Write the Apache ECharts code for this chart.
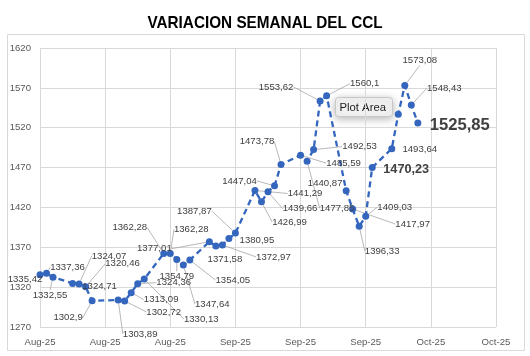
<!DOCTYPE html>
<html>
<head>
<meta charset="utf-8">
<script src="https://cdn.jsdelivr.net/npm/echarts@6/dist/echarts.min.js"></script>
<style>html,body{margin:0;padding:0;background:#fff}#c{width:530px;height:356px}</style>
</head>
<body>
<div id="c"></div>
<script>
// ---- data ----
const dates = [
  '2025-08-06','2025-08-07','2025-08-08','2025-08-11','2025-08-12','2025-08-13','2025-08-14',
  '2025-08-18','2025-08-19','2025-08-20','2025-08-21','2025-08-22',
  '2025-08-25','2025-08-26','2025-08-27','2025-08-28','2025-08-29',
  '2025-09-01','2025-09-02','2025-09-03','2025-09-04','2025-09-05',
  '2025-09-08','2025-09-09','2025-09-10','2025-09-11','2025-09-12',
  '2025-09-15','2025-09-16','2025-09-17','2025-09-18','2025-09-19',
  '2025-09-22','2025-09-23','2025-09-24','2025-09-25','2025-09-26',
  '2025-09-29','2025-09-30','2025-10-01','2025-10-02','2025-10-03'
];
const values = [
  1335.42,1337.36,1332.55,1324.71,1324.07,1320.46,1302.9,
  1303.89,1302.72,1313.09,1324.36,1330.13,
  1362.28,1362.28,1354.79,1347.64,1354.05,
  1377.01,1371.58,1372.97,1380.95,1387.87,
  1441.29,1426.99,1439.66,1447.04,1473.78,
  1485.59,1477.85,1492.53,1553.62,1560.1,
  1440.87,1417.97,1396.33,1409.03,1470.23,
  1493.64,1537,1573.08,1548.43,1525.85
];
const xTickLabels = ['Aug-25','Aug-25','Aug-25','Sep-25','Sep-25','Sep-25','Oct-25','Oct-25'];
const yMin = 1270, yMax = 1620, yStep = 50;

// ---- label layout (offsets of label centre from its point) ----
const labelOffsets = [
  [-15,4],[21,-6],[-3,18],[27,3],[30,-28],[37,-23],[-24,17],
  [22,34],[39,11],[30,7],[36,-1],[57,40],
  [-34,-26],[21,-24],[0,17],[29,39],[43,20],
  [-55,7],[9,13],[51,12],[28,2],[-41,-22],
  [50,3],[28,20],[32,17],[-35,-5],[-24,-23],
  [43,8],[30,47],[46,-3],[-44,-14],[38,-12],
  [-21,-7],[60,15],[23,25],[29,-9],[34,2],
  [28,1],[0,0],[15,-25],[33,-17],[42,2]
];
const leaderShown = [
  0,1,1,0,1,1,1, 1,1,1,1,1, 1,1,1,1,1, 1,0,1,0,1,
  1,1,1,1,1, 1,1,1,1,1, 0,1,1,1,0, 0,0,1,1,0
];
const labelHidden = 38;           // hidden behind the "Plot Area" tip
const bigLabels = {36: 12.7, 41: 16.6};

const day0 = Date.parse(dates[0]);
const dayIdx = dates.map(d => Math.round((Date.parse(d) - day0) / 86400000));
const fmt = v => v.toFixed(2).replace(/0+$/,'').replace(/\.$/,'').replace('.', ',');

const FONT = "'Liberation Sans', Arial, sans-serif";
const seriesData = values.map((v, i) => {
  const item = { value: [dayIdx[i], v] };
  const lab = {};
  if (i === labelHidden) lab.show = false;
  if (bigLabels[i]) { lab.fontSize = bigLabels[i]; lab.fontWeight = 'bold'; }
  item.label = lab;
  item.labelLine = { show: !!leaderShown[i] };
  return item;
});

const chart = echarts.init(document.getElementById('c'), null, {renderer: 'canvas'});
chart.setOption({
  animation: false,
  backgroundColor: '#fff',
  grid: {left: 40, right: 34, top: 48, bottom: 29, containLabel: false},
  xAxis: {
    type: 'value', min: 0, max: 70, interval: 10,
    axisLine: {show: false}, axisTick: {show: false},
    splitLine: {show: true, lineStyle: {color: '#d9d9d9', width: 1}},
    axisLabel: {
      margin: 10, fontSize: 9.6, fontFamily: FONT, color: '#595959',
      showMinLabel: true, showMaxLabel: true,
      formatter: v => xTickLabels[Math.round(v / 10)] || ''
    }
  },
  yAxis: {
    type: 'value', min: yMin, max: yMax, interval: yStep,
    axisLine: {show: false}, axisTick: {show: false},
    splitLine: {show: true, lineStyle: {color: '#d9d9d9', width: 1}},
    axisLabel: {margin: 9, fontSize: 9.6, fontFamily: FONT, color: '#595959',
                formatter: v => String(Math.round(v))}
  },
  series: [{
    type: 'line',
    data: seriesData,
    symbol: 'circle', symbolSize: 7,
    itemStyle: {color: '#3466be'},
    lineStyle: {color: '#3466be', width: 2.3, type: [6, 4]},
    label: {
      show: true, position: 'inside', align: 'center', verticalAlign: 'middle',
      fontSize: 9.6, fontFamily: FONT, color: '#404040',
      formatter: p => fmt(p.value[1])
    },
    labelLine: {show: true, lineStyle: {color: '#a6a6a6', width: 0.8}},
    labelLayout: p => ({dx: labelOffsets[p.dataIndex][0], dy: labelOffsets[p.dataIndex][1]}),
    emphasis: {disabled: true}
  }],
  graphic: [
    {type: 'text', x: 265, y: 23, scaleX: 0.9, silent: true,
     style: {text: 'VARIACION SEMANAL DEL CCL', align: 'center', verticalAlign: 'middle',
             font: "bold 17px 'Liberation Sans', Arial, sans-serif", fill: '#000'}},
    {type: 'rect', silent: true, z: -10,
     shape: {x: 7.5, y: 34.5, width: 517, height: 316},
     style: {fill: 'none', stroke: '#d9d9d9', lineWidth: 1}},
    {type: 'group', left: 335, top: 97, z: 100, children: [
      {type: 'rect', shape: {x: 0, y: 0, width: 57, height: 19, r: 3},
       style: {fill: '#f3f3f3', stroke: '#c8c8c8', lineWidth: 1,
               shadowBlur: 8, shadowColor: 'rgba(0,0,0,0.28)', shadowOffsetY: 2}},
      {type: 'text', x: 4, y: 10,
       style: {text: 'Plot Area', font: "11.3px 'Liberation Sans', Arial, sans-serif", fill: '#222', verticalAlign: 'middle'}}
    ]}
  ]
});
</script>
</body>
</html>
